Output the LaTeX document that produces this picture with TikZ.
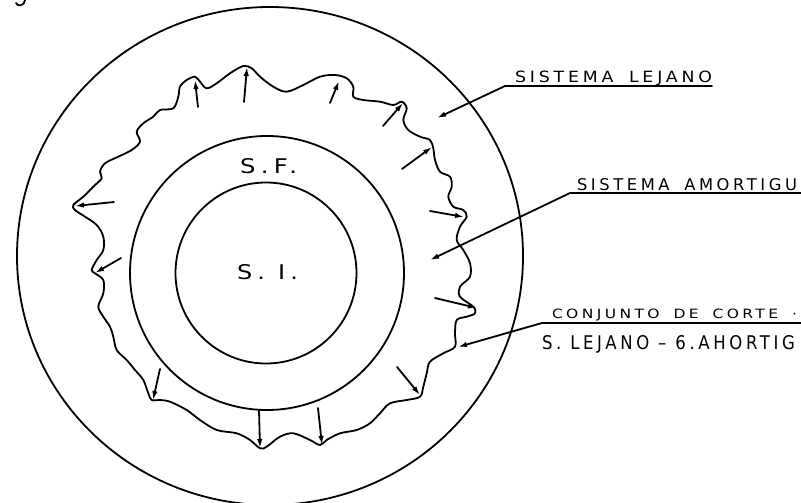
\documentclass[tikz,border=0pt]{standalone}
\usepackage{graphicx}
\usepackage{fontspec}
\newfontfamily\labfont[LetterSpace=22]{DejaVu Sans}
\usetikzlibrary{arrows.meta}
\newcommand{\fitlab}[3]{\resizebox{#1pt}{#2pt}{\labfont #3}}
\newcommand{\wg}{\hspace{0.9em}}
\tikzset{
  ln/.style={line width=1.8pt, line cap=round, line join=round},
  arr/.style={ln, -{Latex[length=9pt,width=5.5pt]}},
  lbl/.style={anchor=base west, inner sep=0pt, outer sep=0pt}
}
\begin{document}
\begin{tikzpicture}[x=1pt,y=-1pt]
\useasboundingbox (0,0) rectangle (801,503);
% circles
\coordinate (co) at (270,256);
\coordinate (cm) at (267,273);
\coordinate (ci) at (266,273);
\draw[ln] (co) ellipse [x radius=253pt, y radius=249pt];
\draw[ln] (cm) circle [radius=137pt];
\draw[ln] (ci) circle [radius=90.5pt];
% wavy cut set
\draw[ln] plot[smooth cycle, tension=0.55] coordinates {
(73.3,205) (83.3,196.7) (93.3,186.7) (101.7,178.3) (100,171.7) (105,163.3)
(118.3,156.7) (131.7,150) (140,141.7) (136.7,131.7) (143.3,123.3) (153.3,116.7)
(160,110) (173.3,108.3) (178.3,96.7) (180,86.7) (186.7,80) (195,76.7)
(200,81.7) (206.7,88.3) (216.7,83.3) (230,73.3) (243.3,66) (251.7,68.3)
(260,76.7) (273.3,86.7) (286.7,91.7) (303.3,85) (320,76.7) (335,75)
(346.7,78.3) (353.3,86.7) (353.3,96.7) (363.3,100) (380,101.7) (393.3,105)
(401.7,101.7) (406.7,108.3) (403.3,120) (408.3,130) (420,136.7) (430,140)
(433.3,148.3) (435,160) (440,171.7) (450,176.7) (451.7,186.7) (448.3,196.7)
(453.3,206.7) (463.3,210) (466.7,216.7) (460,226.7) (456.7,240) (463.3,250)
(470,263.3) (470,276.7) (460,286.7) (460,296.7) (473.3,306.7) (475,313.3)
(466.7,316.7) (456.7,320) (455,333.3) (455,346.7) (443.3,353.3) (430,361.7)
(426.7,373.3) (423.3,386.7) (420,396.7) (406.7,400) (390,403.3) (380,413.3)
(370,423.3) (356.7,430) (340,433.3) (326.7,440) (320,445) (310,440)
(293.3,433.3) (280,436.7) (266.7,446.7) (260,448.3) (250,440) (236.7,433.3)
(216.7,430) (200,420) (186.7,410) (170,401.7) (160,400) (151.7,400)
(148.3,393.3) (143.3,380) (135,370) (126.7,360) (116.7,350) (113.3,336.7)
(110,326.7) (103.3,316.7) (98.3,306.7) (103.3,293.3) (103.3,280) (95,273.3)
(91.7,270) (96.7,260) (103.3,250) (103.3,236.7) (96.7,225) (85,216.7) (75,210)
};
% outward arrows
\foreach \i/\sx/\sy/\tx/\ty in {
 1/198/107/195/80, 2/244/102/247/67, 3/330/103/339/81, 4/383/126/403/103,
 5/402/169/432/147, 6/430/211/464/217, 7/435/298/477/308, 8/397/367/420/395,
 9/318/408/322/445, 10/259/410/260/448, 11/160/369/153/400, 12/121/258/95/273,
 13/114/202/75/206}{
  \coordinate (s\i) at (\sx,\sy);
  \coordinate (t\i) at (\tx,\ty);
  \draw[arr] (s\i) -- (t\i);
}
% inner labels
\node[lbl] (sf) at (240,173) {\fitlab{57}{15}{S.F.}};
\node[lbl] (si) at (237,279) {\fitlab{61}{15}{S. I.}};
% right labels
\node[lbl] (l1) at (515,82) {\fitlab{197}{11.5}{SISTEMA\wg LEJANO}};
\coordinate (u1a) at (505,86); \coordinate (u1b) at (712,86);
\draw[ln] (u1a) -- (u1b);
\coordinate (a1) at (437,118);
\draw[arr] (u1a) -- (a1);

\node[lbl] (l2) at (577,190) {\fitlab{220}{12}{SISTEMA\wg AMORTIGU}};
\coordinate (u2a) at (570,193); \coordinate (u2b) at (801,193);
\draw[ln] (u2a) -- (u2b);
\coordinate (a2) at (430,260);
\draw[arr] (u2a) -- (a2);

\node[lbl] (l3) at (552,318.5) {\fitlab{245}{9.5}{CONJUNTO\wg DE\wg CORTE\wg ·}};
\coordinate (u3a) at (542,323); \coordinate (u3b) at (801,323);
\draw[ln] (u3a) -- (u3b);
\coordinate (a3) at (458,347);
\draw[arr] (u3a) -- (a3);
\node[lbl] (l4) at (542,349) {\fitlab{253}{14}{S. LEJANO – 6.AHORTIG}};
% fragment at top left
\coordinate (h1) at (25,0); \coordinate (h2) at (16,3);
\draw[ln] (h1) .. controls (25,6) and (17,7) .. (h2);
\end{tikzpicture}
\end{document}
